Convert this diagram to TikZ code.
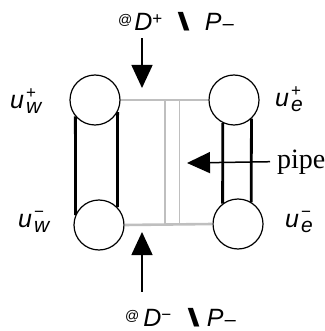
\documentclass[tikz,border=0pt]{standalone}
\usepackage{graphicx}
\usepackage{fontspec}
\setmainfont{Liberation Serif}
\newfontfamily\labfont{Liberation Sans}
\usetikzlibrary{arrows.meta,calc}
\tikzset{
  >={Triangle[length=23pt,width=21pt]},
}
\newcommand{\smallat}{\raisebox{6pt}{\fontsize{14}{14}\selectfont @}}
\newcommand{\supsym}[2]{\raisebox{#1}{\fontsize{17}{17}\selectfont #2}}
\newcommand{\lowmns}{\raisebox{-1pt}{\scalebox{1.2}[1]{\fontsize{19}{19}\selectfont\char"2212}}}
\newcommand{\bslash}{\scalebox{1.8}[1]{\bfseries\textbackslash}}
\newcommand{\ulab}[2]{\textit{u}\hspace{2pt}\rlap{\supsym{10pt}{#1}}\raisebox{-5pt}{\fontsize{21}{21}\selectfont\itshape #2}}

\begin{document}
\begin{tikzpicture}[x=1pt, y=-1pt,
  ring/.style={circle, draw, fill=white, line width=1.2pt, minimum size=50pt, inner sep=0pt},
  rail/.style={line width=2.8pt},
  pipeline/.style={draw=black!25, line width=2.6pt},
  rung/.style={draw=black!25, line width=1.6pt},
  arr/.style={->, line width=1.5pt},
  lab/.style={font=\labfont\fontsize{25}{30}\selectfont, inner sep=0pt, anchor=base west}
]
  \useasboundingbox (0,0) rectangle (324,331);
  % the four rings
  \node[ring] (wp) at (95,100) {};
  \node[ring] (ep) at (234,100) {};
  \node[ring] (wm) at (99,225) {};
  \node[ring] (em) at (238,224) {};
  % labels
  \node[lab] (lwp) at (10,109) {\ulab{+}{w}};
  \node[lab] (lep) at (275,107) {\ulab{+}{e}};
  \node[lab] (lwm) at (18,227) {\ulab{\char"2212}{w}};
  \node[lab] (lem) at (285,227) {\ulab{\char"2212}{e}};
  \node[lab] (dtop) at (118,31) {\smallat\hspace{2pt}\textit{D}\supsym{6pt}{+}\hspace{15pt}\bslash\hspace{15pt}\textit{P}\lowmns};
  \node[lab] (dbot) at (125,326) {\smallat\hspace{4pt}\textit{D}\supsym{6pt}{\char"2212}\hspace{16pt}\bslash\hspace{7pt}\textit{P}\lowmns};
  \node[font=\fontsize{28}{32}\selectfont, inner sep=0pt, anchor=base west] (pipe) at (277,168) {pipe};
  % black rails
  \draw[rail] (wp.220) -- (wm.157);
  \draw[rail] (wp.332) -- (wm.44);
  \draw[rail] (ep.244) -- (em.127);
  \draw[rail] (ep.313) -- (em.59);
  % grey pipe
  \draw[pipeline] (wp.east) -- (ep.west);
  \draw[pipeline] (wm.east) -- (em.west);
  \coordinate (g1) at ($(wp.east)!0.505!(ep.west)$);
  \coordinate (g2) at ($(wp.east)!0.67!(ep.west)$);
  \draw[rung] (g1) -- (g1 |- wm.east);
  \draw[rung] (g2) -- (g2 |- wm.east);
  % arrows
  \coordinate (toptip) at (142,88);
  \coordinate (bottip) at (142,232);
  \coordinate (pipetip) at (187,163);
  \draw[arr] ([yshift=-6pt]dtop.south -| toptip) -- (toptip);
  \draw[arr] ([yshift=16pt]dbot.north -| bottip) -- (bottip);
  \draw[arr] ([xshift=-7pt]pipe.west) -- (pipetip);
\end{tikzpicture}
\end{document}
